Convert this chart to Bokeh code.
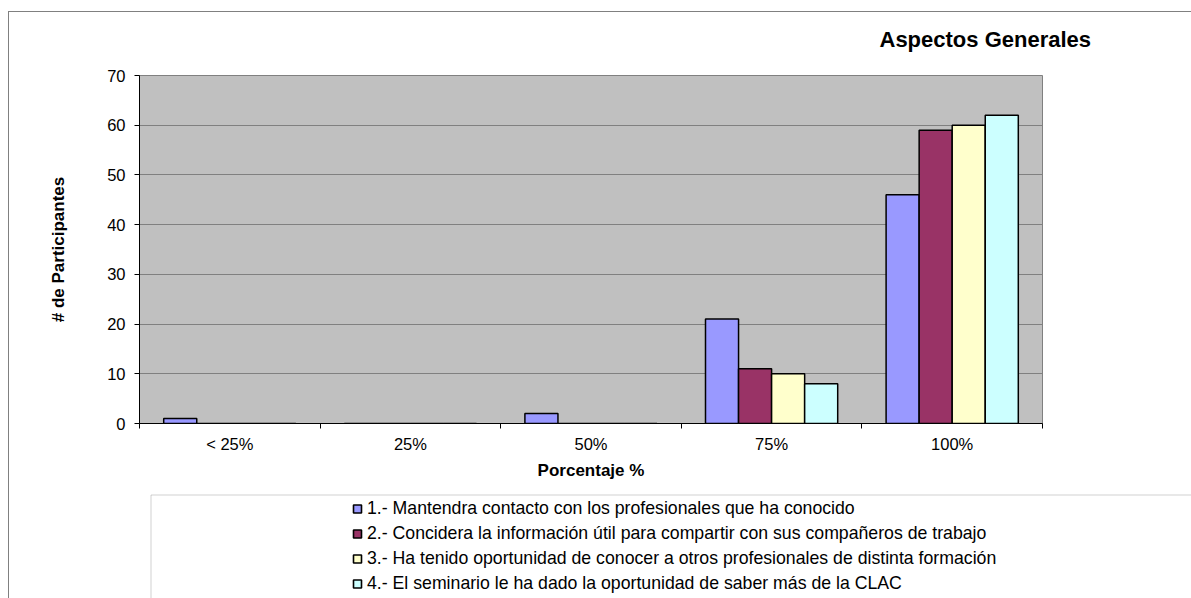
from bokeh.plotting import figure
from bokeh.layouts import column
from bokeh.models import (ColumnDataSource, Range1d, FixedTicker, Legend, LegendItem,
                          InlineStyleSheet, BoxAnnotation)
from bokeh.transform import dodge
from bokeh.embed import file_html
from bokeh.resources import INLINE

# ---- data ----
categories = ["< 25%", "25%", "50%", "75%", "100%"]
series_names = [
    "1.- Mantendra contacto con los profesionales que ha conocido",
    "2.- Concidera la información útil para compartir con sus compañeros de trabajo",
    "3.- Ha tenido oportunidad de conocer a otros profesionales de distinta formación",
    "4.- El seminario le ha dado la oportunidad de saber más de la CLAC",
]
s1 = [1, 0, 2, 21, 46]
s2 = [0, 0, 0, 11, 59]
s3 = [0, 0, 0, 10, 60]
s4 = [0, 0, 0, 8, 62]
colors = ["#9999FF", "#993366", "#FFFFCC", "#CCFFFF"]
y_ticks = [0, 10, 20, 30, 40, 50, 60, 70]
title_text = "Aspectos Generales"
x_label = "Porcentaje %"
y_label = "# de Participantes"

FONT = "Liberation Sans"

series = [s1, s2, s3, s4]
keys = ["s1", "s2", "s3", "s4"]
pos = [i + 0.5 for i in range(len(categories))]
bounds = [float(i) for i in range(len(categories) + 1)]
src = ColumnDataSource(dict(x=pos, s1=s1, s2=s2, s3=s3, s4=s4))

frame_css = InlineStyleSheet(css="""
:host::after {
  content: ''; position: absolute; left: 8px; top: 11px; right: 0; bottom: 0;
  border-top: 1px solid #808080; border-left: 1px solid #808080;
  pointer-events: none;
}
""")

# ---- chart ----
p = figure(width=1191, height=490, x_range=Range1d(0, len(categories)),
           y_range=Range1d(0, 70), output_backend="svg", toolbar_location=None,
           min_border_left=139, min_border_right=149, min_border_top=74,
           min_border_bottom=67, background_fill_color="#C0C0C0",
           border_fill_color="white", outline_line_color="#808080",
           outline_line_width=1, title=title_text, frame_align=False)

p.title.text_font = FONT
p.title.text_font_size = "22px"
p.title.text_font_style = "bold"
p.title.text_color = "black"
p.title.align = "left"
p.title.offset = 740
p.title.standoff = 48

bw = 0.183
for k, key in enumerate(keys):
    off = (k - 1.5) * bw
    p.vbar(x=dodge("x", off), top=key, width=bw, source=src,
           fill_color=colors[k], line_color="black", line_width=1.5)

p.xaxis.ticker = FixedTicker(ticks=pos, minor_ticks=bounds)
p.xaxis.major_label_overrides = {pos[i]: categories[i] for i in range(len(categories))}
p.xaxis.major_tick_out = 0
p.xaxis.major_tick_in = 0
p.xaxis.minor_tick_out = 5
p.xaxis.minor_tick_in = 0
p.xaxis.minor_tick_line_color = "black"
p.xaxis.major_label_standoff = 6
p.xaxis.axis_label = x_label
p.xaxis.axis_label_standoff = 5

p.yaxis.ticker = FixedTicker(ticks=y_ticks)
p.yaxis.major_tick_out = 5
p.yaxis.major_tick_in = 0
p.yaxis.minor_tick_line_color = None
p.yaxis.major_label_standoff = 9
p.yaxis.axis_label = y_label
p.yaxis.axis_label_standoff = 36

for ax in (p.xaxis, p.yaxis):
    ax.axis_line_color = "black"
    ax.axis_line_width = 1
    ax.major_tick_line_color = "black"
    ax.major_label_text_font = FONT
    ax.major_label_text_font_size = "16.5px"
    ax.major_label_text_color = "black"
    ax.axis_label_text_font = FONT
    ax.axis_label_text_font_size = "17px"
    ax.axis_label_text_font_style = "bold"
    ax.axis_label_text_color = "black"

p.xgrid.visible = False
p.ygrid.ticker = FixedTicker(ticks=y_ticks)
p.ygrid.grid_line_color = "#808080"
p.ygrid.grid_line_width = 1

# ---- legend strip ----
lg = figure(width=1191, height=108, x_range=Range1d(0, 1), y_range=Range1d(0, 1),
            output_backend="svg", toolbar_location=None, title=None,
            x_axis_location=None, y_axis_location=None,
            min_border_left=0, min_border_right=0, min_border_top=0,
            min_border_bottom=0, outline_line_color=None,
            background_fill_color="white", border_fill_color="white",
            frame_align=False)
lg.xgrid.visible = False
lg.ygrid.visible = False

lg.add_layout(BoxAnnotation(left=150.5, right=5000, top=4.5, bottom=5000,
                            left_units="canvas", right_units="canvas",
                            top_units="canvas", bottom_units="canvas",
                            fill_color="white", fill_alpha=1,
                            line_color="#666666", line_width=1))

proxies = []
for k in range(len(series_names)):
    r = lg.scatter(x=pos, y=series[k], marker="square", fill_color=colors[k],
                   line_color="black", line_width=1.6, visible=False)
    proxies.append(r)

legend = Legend(items=[LegendItem(label=series_names[k], renderers=[proxies[k]])
                       for k in range(len(series_names))],
                location=(347, 4), orientation="vertical", padding=0, margin=0,
                spacing=4, glyph_width=20, glyph_height=21, label_height=21,
                label_standoff=0,
                label_text_font=FONT, label_text_font_size="17.7px",
                label_text_color="black", border_line_alpha=0,
                background_fill_alpha=0, inactive_fill_alpha=0)
lg.add_layout(legend)

layout = column(p, lg, spacing=0, stylesheets=[frame_css])
open("out.html", "w").write(file_html(layout, INLINE))
